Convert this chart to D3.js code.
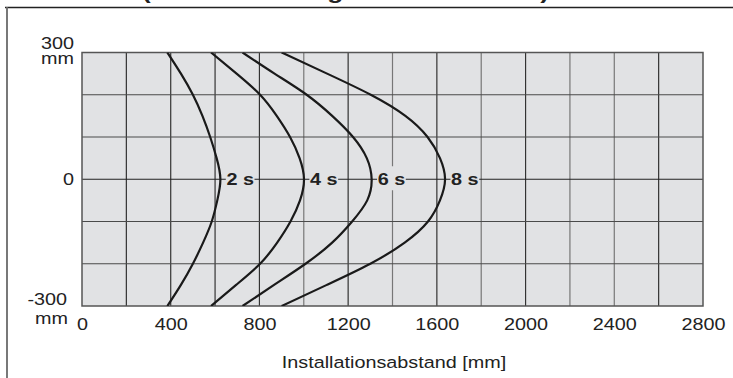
<!DOCTYPE html>
<html>
<head>
<meta charset="utf-8">
<script src="https://cdn.jsdelivr.net/npm/d3@7"></script>
<style>
  html, body { margin: 0; padding: 0; background: #fff; }
  svg { display: block; }
  text { font-family: "Liberation Sans", Arial, sans-serif; fill: #222; }
</style>
</head>
<body>
<div id="chart"></div>
<script>
// Lateral offset of the detection edge (mm) and the installation distance
// reached at that offset for each hold time.
const lateralOffset = [300, 250, 200, 150, 100, 50, 0, -50, -100, -150, -200, -250, -300];
const dist2s = [385, 446, 500, 543, 578, 607, 624, 610, 585, 546, 500, 446, 385];
const dist4s = [582, 697, 803, 878, 938, 981, 1001, 983, 940, 880, 803, 695, 582];
const dist6s = [724, 868, 1013, 1128, 1222, 1284, 1306, 1286, 1218, 1128, 1008, 866, 724];
const dist8s = [900, 1105, 1302, 1458, 1558, 1614, 1637, 1614, 1560, 1455, 1300, 1104, 900];
const holdLabels = ["2 s", "4 s", "6 s", "8 s"];

const xTicks = [0, 400, 800, 1200, 1600, 2000, 2400, 2800];
const xGrid = d3.range(200, 2800, 200);
const yGrid = [200, 100, 0, -100, -200];
const lightGridX = [1000, 1400, 1800, 2200, 2400];

const W = 733, H = 378;
const plot = { left: 82, right: 703, top: 52.5, bottom: 306 };
const stretch = 1.2;   // horizontal stretch applied to all lettering

const svg = d3.select("#chart").append("svg")
  .attr("width", W).attr("height", H);

const x = d3.scaleLinear().domain([0, 2800]).range([plot.left, plot.right]);
const y = d3.scaleLinear().domain([-300, 300]).range([plot.bottom, plot.top]);

// outer frame (top and left rules)
svg.append("line").attr("x1", 5).attr("x2", W).attr("y1", 7.5).attr("y2", 7.5)
  .attr("stroke", "#222").attr("stroke-width", 1.4);
svg.append("line").attr("x1", 7).attr("x2", 7).attr("y1", 7).attr("y2", H)
  .attr("stroke", "#6a6a6a").attr("stroke-width", 1.8);

// heading, mostly beyond the top edge
svg.append("text")
  .attr("x", 142).attr("y", -1.5)
  .attr("textLength", 407).attr("lengthAdjust", "spacingAndGlyphs")
  .attr("font-size", 21).attr("font-weight", "bold")
  .text("(Zeit bei Montagehöhe 2200 mm)");

// plot background
svg.append("rect")
  .attr("x", plot.left).attr("y", plot.top)
  .attr("width", plot.right - plot.left).attr("height", plot.bottom - plot.top)
  .attr("fill", "#e1e2e4");

// grid
const grid = svg.append("g");
grid.selectAll("line.v").data(xGrid).join("line")
  .attr("x1", d => x(d)).attr("x2", d => x(d))
  .attr("y1", plot.top).attr("y2", plot.bottom)
  .attr("stroke", d => lightGridX.includes(d) ? "#777" : "#333")
  .attr("stroke-width", 1.2);
grid.selectAll("line.h").data(yGrid).join("line")
  .attr("x1", plot.left).attr("x2", plot.right)
  .attr("y1", d => y(d)).attr("y2", d => y(d))
  .attr("stroke", d => d === 0 ? "#222" : "#4a4a4a")
  .attr("stroke-width", 1.2);

// plot border
svg.append("rect")
  .attr("x", plot.left).attr("y", plot.top)
  .attr("width", plot.right - plot.left).attr("height", plot.bottom - plot.top)
  .attr("fill", "none").attr("stroke", "#555").attr("stroke-width", 1.5);

// curves
svg.append("clipPath").attr("id", "clip").append("rect")
  .attr("x", plot.left).attr("y", plot.top)
  .attr("width", plot.right - plot.left).attr("height", plot.bottom - plot.top);

const seriesList = [dist2s, dist4s, dist6s, dist8s];
const line = d3.line()
  .x(d => x(d[0])).y(d => y(d[1]))
  .curve(d3.curveNatural);

svg.append("g").attr("clip-path", "url(#clip)")
  .selectAll("path").data(seriesList).join("path")
  .attr("d", s => line(s.map((v, i) => [v, lateralOffset[i]])))
  .attr("fill", "none").attr("stroke", "#1a1a1a").attr("stroke-width", 2.2);

// hold-time labels at the apex of each curve
seriesList.forEach((s, i) => {
  const apex = s[lateralOffset.indexOf(0)];
  const g = svg.append("g")
    .attr("transform", `translate(${x(apex) + 6},${y(0) + 6}) scale(${stretch},1)`);
  const t = g.append("text")
    .attr("font-size", 16.5).attr("font-weight", "bold")
    .text(holdLabels[i]);
  const bb = t.node().getBBox();
  g.insert("rect", "text")
    .attr("x", bb.x - 0.5).attr("y", -19)
    .attr("width", bb.width + 1).attr("height", 24)
    .attr("fill", "#e1e2e4");
});

// x axis labels
const xAxis = d3.axisBottom(x).tickValues(xTicks).tickSize(0).tickPadding(0)
  .tickFormat(d3.format("d"));
const xa = svg.append("g").attr("transform", `translate(0,${plot.bottom})`).call(xAxis);
xa.select(".domain").remove();
xa.selectAll("text")
  .attr("y", 24).attr("dy", null)
  .attr("font-size", 16.5).attr("font-family", null).attr("fill", "#222")
  .attr("transform", `scale(${stretch},1)`);

// y axis labels
function label(txt, px, py, anchor) {
  svg.append("g").attr("transform", `translate(${px},${py}) scale(${stretch},1)`)
    .append("text").attr("text-anchor", anchor).attr("font-size", 16.5).text(txt);
}
label("300", 74, y(300) - 3.5, "end");
label("mm", 74, y(300) + 11, "end");
label("0", 74, y(0) + 6, "end");
label("-300", 67, y(-300) - 1.5, "end");
label("mm", 68, y(-300) + 17.5, "end");

// axis title
label("Installationsabstand [mm]", (plot.left + plot.right) / 2 + 1.5, 368, "middle");
</script>
</body>
</html>
